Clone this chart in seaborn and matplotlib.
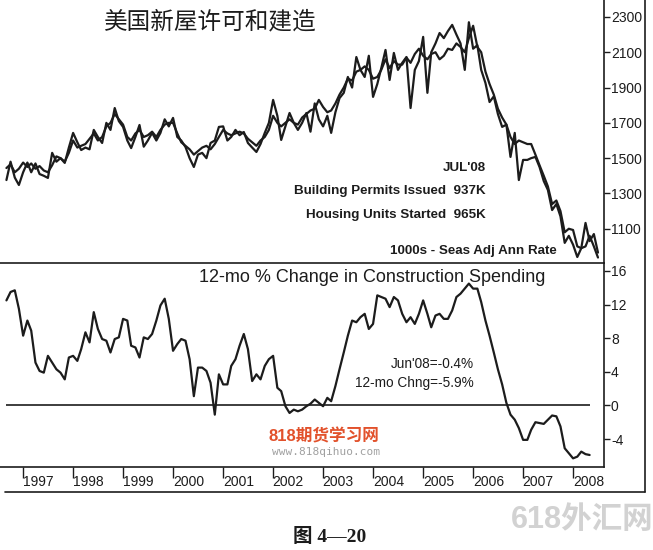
import matplotlib
matplotlib.use("Agg")
import matplotlib.pyplot as plt
import matplotlib.dates as mdates
from matplotlib.lines import Line2D
import seaborn as sns
import pandas as pd

# monthly data, Sep 1996 onwards
permits = [
    1444, 1465, 1420, 1440,
    1475, 1450, 1470, 1440, 1455, 1430, 1420, 1460, 1510, 1500, 1480, 1530,
    1600, 1560, 1570, 1580, 1610, 1640, 1600, 1620, 1680, 1700, 1750, 1720,
    1690, 1620, 1600, 1640, 1660, 1620, 1630, 1650, 1620, 1660, 1690, 1700,
    1700, 1640, 1590, 1570, 1550, 1520, 1540, 1560, 1570, 1550, 1580, 1620,
    1660, 1640, 1630, 1640, 1650, 1640, 1610, 1590, 1570, 1600, 1620, 1660,
    1740, 1700, 1680, 1700, 1720, 1700, 1690, 1730, 1750, 1770, 1780, 1830,
    1790, 1760, 1770, 1810, 1860, 1900, 1950, 1940, 1990, 2000, 2020, 2000,
    1950, 1960, 2000, 2060, 2010, 2050, 2030, 2030, 2070, 2040, 2090, 2120,
    2080, 2060, 2090, 2100, 2060, 2080, 2120, 2113, 2150, 2130, 2100, 2180,
    2250, 2130, 2100, 1990, 1920, 1860, 1780, 1730, 1690, 1620, 1580, 1600,
    1590, 1580, 1580, 1520, 1460, 1400, 1340, 1240, 1260, 1200, 1080, 1100,
    1093, 1000, 990, 1000, 1060, 1000, 937,
]
starts = [
    1376, 1480, 1390, 1348,
    1420, 1475, 1420, 1470, 1410, 1400, 1388, 1530, 1480, 1500, 1473, 1560,
    1643, 1590, 1546, 1560, 1550, 1660, 1620, 1586, 1700, 1660, 1784, 1710,
    1677, 1600, 1557, 1620, 1688, 1565, 1600, 1643, 1600, 1643, 1720, 1680,
    1728, 1620, 1600, 1563, 1500, 1450, 1520, 1530, 1500, 1586, 1600, 1677,
    1680, 1600, 1620, 1660, 1630, 1648, 1586, 1560, 1535, 1580, 1643, 1700,
    1830, 1740, 1603, 1680, 1756, 1700, 1660, 1700, 1756, 1650, 1810, 1720,
    1680, 1740, 1643, 1760, 1840, 1870, 1960, 1900, 2073, 2000, 1960, 2080,
    1847, 1920, 2010, 2113, 1943, 2096, 2000, 2040, 2073, 1784, 2000, 2050,
    2187, 1870, 2100, 2150, 2209, 2180, 2220, 2255, 2200, 2150, 2000, 2270,
    2120, 2140, 2000, 1926, 1818, 1850, 1750, 1677, 1690, 1507, 1643, 1376,
    1490, 1490, 1500, 1507, 1450, 1370, 1320, 1206, 1240, 1170, 1020, 1060,
    1010, 940, 990, 1133, 1030, 1070, 965,
]
spending = [
    12.5, 13.5, 13.7, 11.5,
    8.3, 10.1, 8.9, 5.1, 4.1, 3.9, 5.9, 5.1, 4.3, 3.9, 3.1, 5.7,
    5.9, 5.3, 6.7, 8.7, 7.5, 11.1, 9.1, 7.9, 7.7, 6.3, 7.9, 8.1,
    10.3, 10.1, 7.1, 6.9, 5.7, 8.1, 7.9, 8.5, 10.1, 11.9, 12.7, 10.3,
    6.5, 7.3, 7.9, 7.7, 5.5, 1.1, 4.5, 4.5, 4.1, 2.7, -1.1, 3.7,
    2.5, 2.5, 4.7, 5.5, 7.1, 8.5, 6.7, 2.9, 3.7, 3.1, 4.7, 5.5,
    5.9, 2.1, 1.7, -0.1, -0.9, -0.5, -0.7, -0.5, -0.1, 0.2, 0.7, 0.3,
    -0.1, 0.9, 0.5, 2.3, 4.3, 6.3, 8.3, 10.1, 9.9, 10.5, 10.9, 9.1,
    9.7, 13.1, 12.9, 12.7, 11.7, 12.9, 12.5, 10.9, 9.9, 10.5, 9.7, 10.9,
    12.5, 10.9, 9.3, 10.7, 10.9, 10.3, 10.3, 11.3, 12.9, 13.3, 13.9, 14.5,
    13.9, 13.9, 12.3, 10.1, 8.3, 6.3, 4.3, 2.5, 0.3, -1.1, -1.7, -2.7,
    -4.1, -4.1, -2.9, -2.0, -2.1, -2.2, -1.7, -1.2, -1.3, -2.5, -5.1, -5.7,
    -6.3, -6.1, -5.5, -5.8, -5.9,
]
years = list(range(1997, 2009))
top_ticks = [1100, 1300, 1500, 1700, 1900, 2100, 2300]
bottom_ticks = [-4, 0, 4, 8, 12, 16]

top_df = pd.DataFrame({
    "date": pd.date_range("1996-09-01", periods=len(permits), freq="MS"),
    "permits": permits,
    "starts": starts,
})
bot_df = pd.DataFrame({
    "date": pd.date_range("1996-09-01", periods=len(spending), freq="MS"),
    "spending": spending,
})

sns.set_style("white")
plt.rcParams["font.family"] = ["Liberation Sans", "DejaVu Sans"]
plt.rcParams["axes.unicode_minus"] = False

W, H = 653, 550
fig = plt.figure(figsize=(W / 100, H / 100), dpi=100)


def fx(x):
    return x / W


def fy(y):
    return 1 - y / H


ax1 = fig.add_axes([0, fy(263), fx(604), 263 / H])
ax2 = fig.add_axes([0, fy(467), fx(604), 204 / H])

xmin = mdates.date2num(pd.Timestamp("1996-07-16"))
xmax = mdates.date2num(pd.Timestamp("2008-08-14"))
ink = "#1c1c1c"

sns.lineplot(data=top_df, x="date", y="permits", ax=ax1, color=ink, lw=1.6)
sns.lineplot(data=top_df, x="date", y="starts", ax=ax1, color=ink, lw=1.6)
sns.lineplot(data=bot_df, x="date", y="spending", ax=ax2, color=ink, lw=1.6)
ax2.hlines(0, bot_df["date"].iloc[0], bot_df["date"].iloc[-1], color=ink, lw=1.2)

ax1.set_ylim(906, 2396)
ax2.set_ylim(-7.33, 16.95)
for ax in (ax1, ax2):
    ax.set_xlim(xmin, xmax)
    ax.set_xlabel("")
    ax.set_ylabel("")
    ax.yaxis.tick_right()
    ax.tick_params(axis="y", direction="out", length=4, width=1, pad=1,
                   labelsize=10, colors=ink, right=True)
    for s in ("left", "top"):
        ax.spines[s].set_visible(False)
    for s in ("right", "bottom"):
        ax.spines[s].set_color(ink)
        ax.spines[s].set_linewidth(1.2)
    ax.set_facecolor("none")

ax1.set_yticks(top_ticks)
ax1.set_xticks([])
ax2.set_yticks(bottom_ticks)

major = [mdates.date2num(pd.Timestamp(f"{y}-01-01")) for y in years]
minor = [mdates.date2num(pd.Timestamp(f"{y}-04-22")) for y in years]
ax2.set_xticks(major, [""] * len(years))
ax2.set_xticks(minor, [str(y) for y in years], minor=True)
ax2.tick_params(axis="x", which="major", direction="out", length=8, width=1,
                colors=ink, bottom=True)
ax2.tick_params(axis="x", which="minor", length=0, labelsize=10,
                labelcolor=ink, pad=6)

# frame lines
fig.add_artist(Line2D([fx(5), fx(645)], [fy(492), fy(492)], color=ink, lw=1.2))
fig.add_artist(Line2D([fx(645), fx(645)], [fy(492), 1.0], color=ink, lw=1.2))

# texts
fig.text(fx(210), fy(22), "美国新屋许可和建造", fontsize=17,
         family=["Noto Sans CJK SC"], ha="center", va="center", color=ink)
bold = dict(fontsize=9.6, fontweight="bold", ha="right", va="center", color=ink)
fig.text(fx(486), fy(168), "JUL'08", **bold)
fig.text(fx(486), fy(191), "Building Permits Issued  937K", **bold)
fig.text(fx(486), fy(215), "Housing Units Started  965K", **bold)
fig.text(fx(557), fy(251), "1000s - Seas Adj Ann Rate", **bold)

fig.text(fx(372), fy(278), "12-mo % Change in Construction Spending",
         fontsize=13, ha="center", va="center", color=ink)
fig.text(fx(474), fy(364), "Jun'08=-0.4%", fontsize=9.8, ha="right",
         va="center", color=ink)
fig.text(fx(474), fy(383), "12-mo Chng=-5.9%", fontsize=9.8, ha="right",
         va="center", color=ink)

# watermarks
fig.text(fx(324), fy(436), "818期货学习网", fontsize=12, fontweight="bold",
         family=["Liberation Sans", "Noto Sans CJK SC"], ha="center",
         va="center", color="#e2512b")
fig.text(fx(326), fy(452), "www.818qihuo.com", fontsize=8,
         family=["DejaVu Sans Mono"], ha="center", va="center", color="#a0a0a0")
fig.text(fx(582), fy(520), "618外汇网", fontsize=22, fontweight="bold",
         family=["Liberation Sans", "Noto Sans CJK SC"], ha="center",
         va="center", color="#d2d2d2")

fig.text(fx(330), fy(537), "图 4—20", fontsize=14, fontweight="bold",
         family=["Liberation Serif", "Noto Sans CJK SC"], ha="center",
         va="center", color=ink)

fig.savefig("out.png", dpi=100, facecolor="white")
